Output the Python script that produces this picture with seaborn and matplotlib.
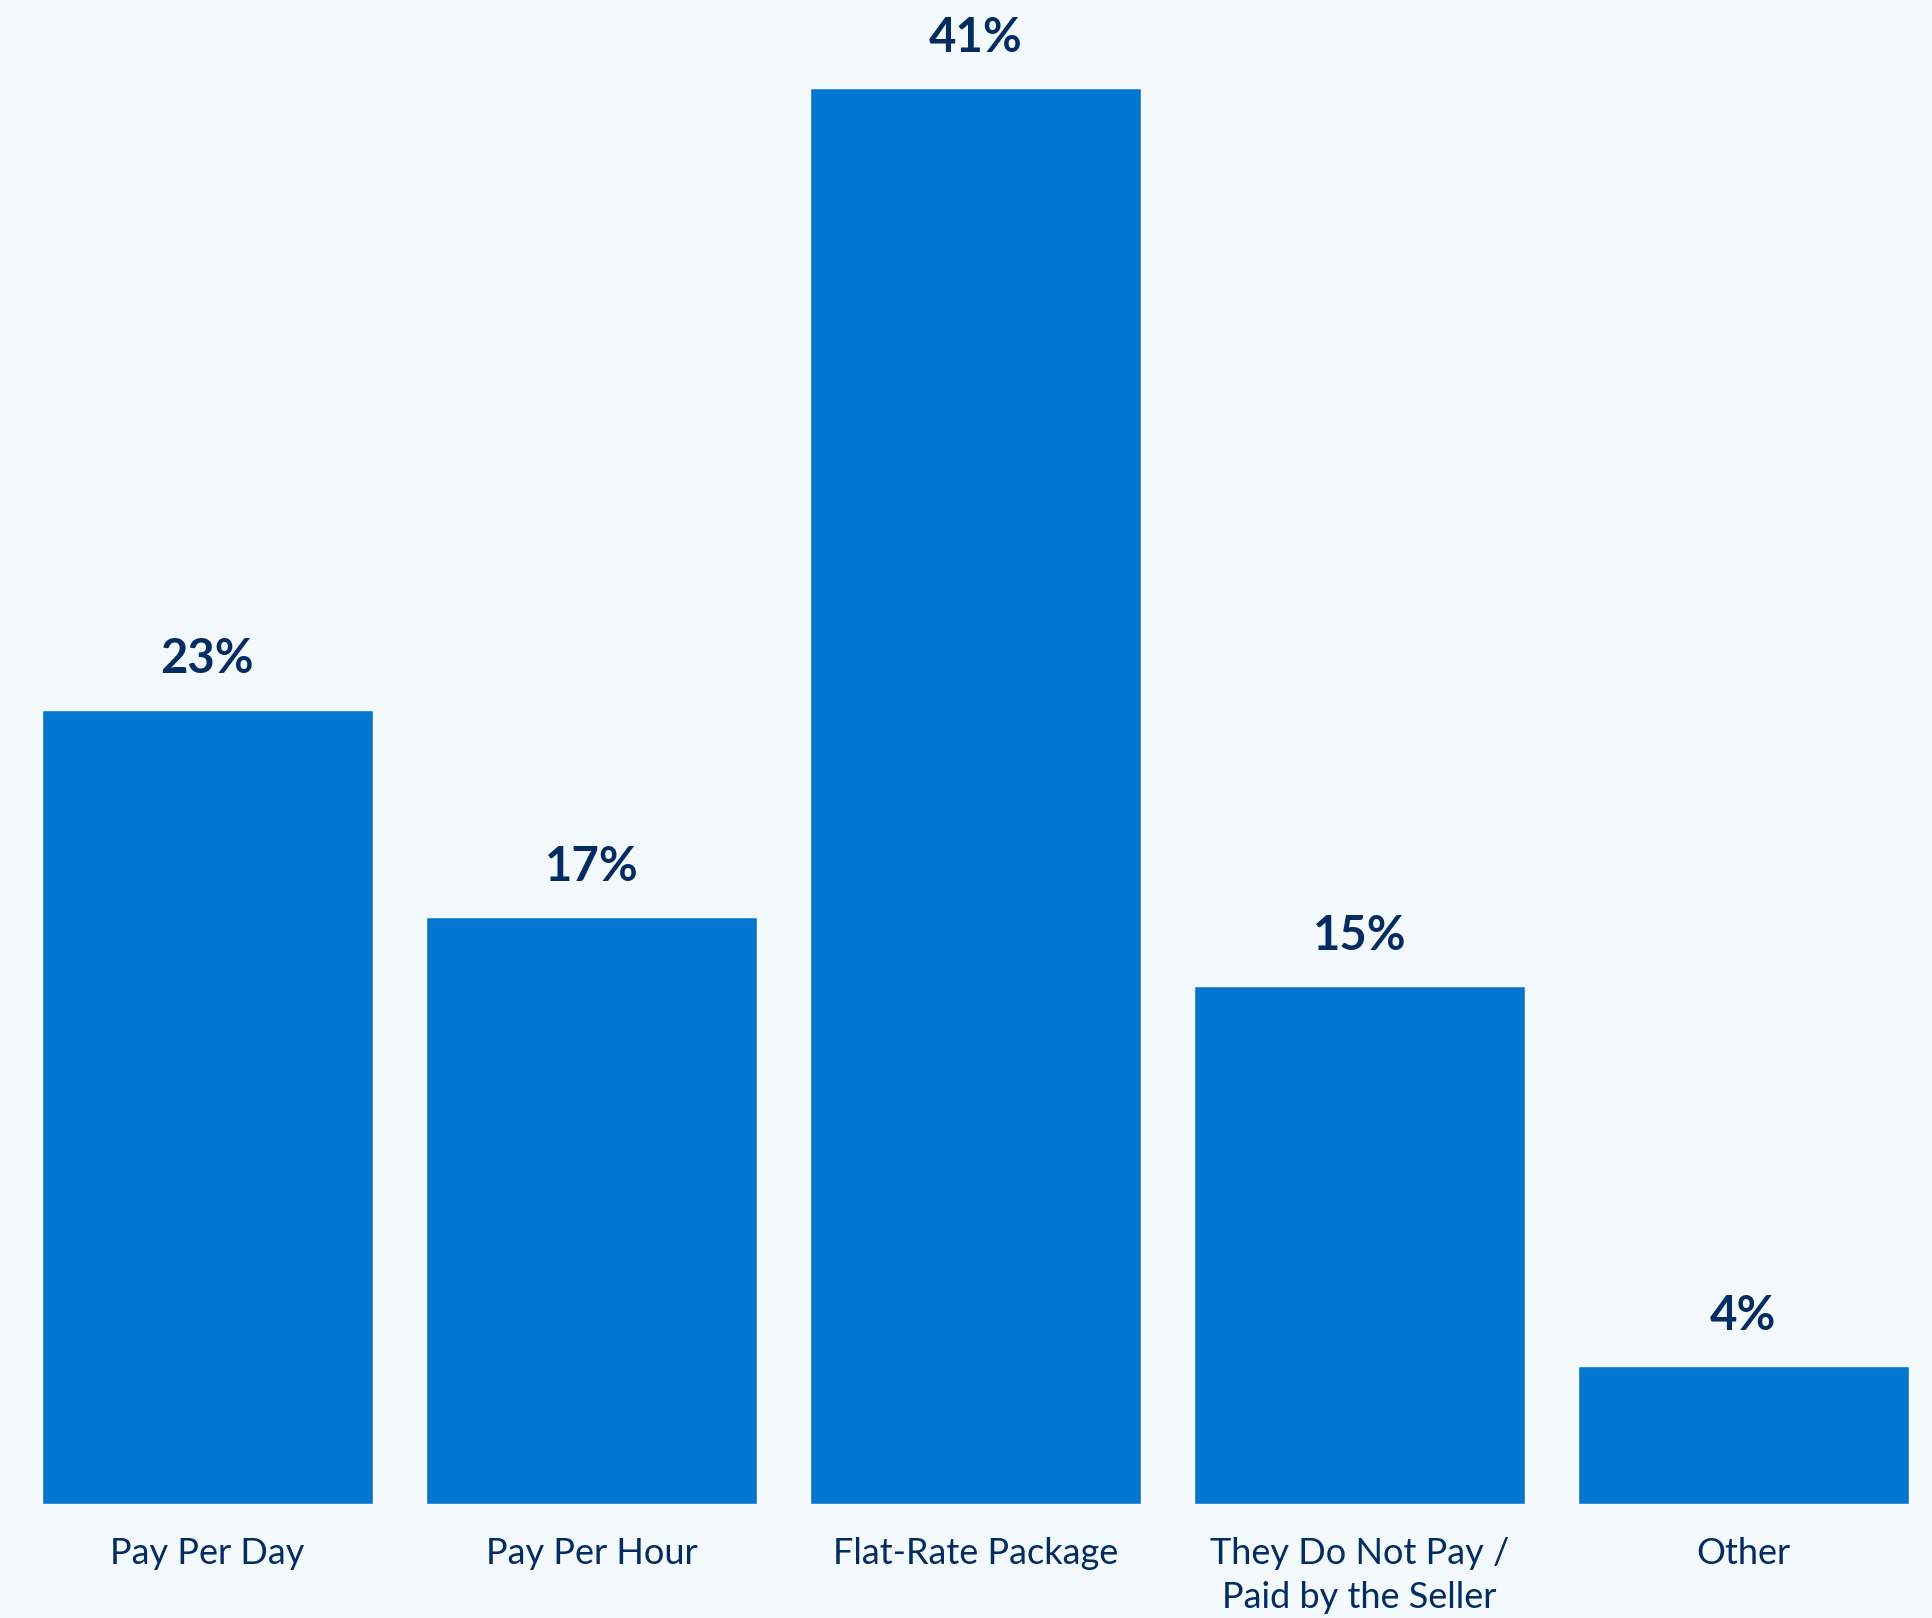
import matplotlib
matplotlib.use("Agg")
import matplotlib.pyplot as plt
import seaborn as sns
import pandas as pd

categories = ["Pay Per Day", "Pay Per Hour", "Flat-Rate Package",
              "They Do Not Pay /\nPaid by the Seller", "Other"]
values = [23, 17, 41, 15, 4]
value_labels = ["23%", "17%", "41%", "15%", "4%"]

BG = "#F4F9FE"
BAR = "#0176D3"
NAVY = "#032D60"

sns.set_theme(style="white")
plt.rcParams["font.family"] = ["Lato", "DejaVu Sans"]

df = pd.DataFrame({"category": categories, "value": values})

fig = plt.figure(figsize=(19.33, 16.18), dpi=100, facecolor=BG)
ax = fig.add_axes([0, 0.0706, 1, 0.9294])
ax.set_facecolor(BG)

sns.barplot(data=df, x="category", y="value", color=BAR, saturation=1,
            width=0.862, ax=ax)

ax.set_xlim(-0.54, 4.494)
ax.set_ylim(0, 43.55)

for i, (v, lab) in enumerate(zip(values, value_labels)):
    ax.annotate(lab, xy=(i, v), xytext=(0, 26), textcoords="offset points",
                ha="center", va="baseline", fontsize=34, fontweight="bold",
                color=NAVY)

ax.set_xlabel("")
ax.set_ylabel("")
ax.set_yticks([])
ax.tick_params(axis="x", length=0, pad=24, labelsize=26, labelcolor=NAVY)
for t in ax.get_xticklabels():
    t.set_linespacing(1.4)
    t.set_va("top")
for s in ax.spines.values():
    s.set_visible(False)

fig.savefig("out.png", dpi=100, facecolor=BG)
